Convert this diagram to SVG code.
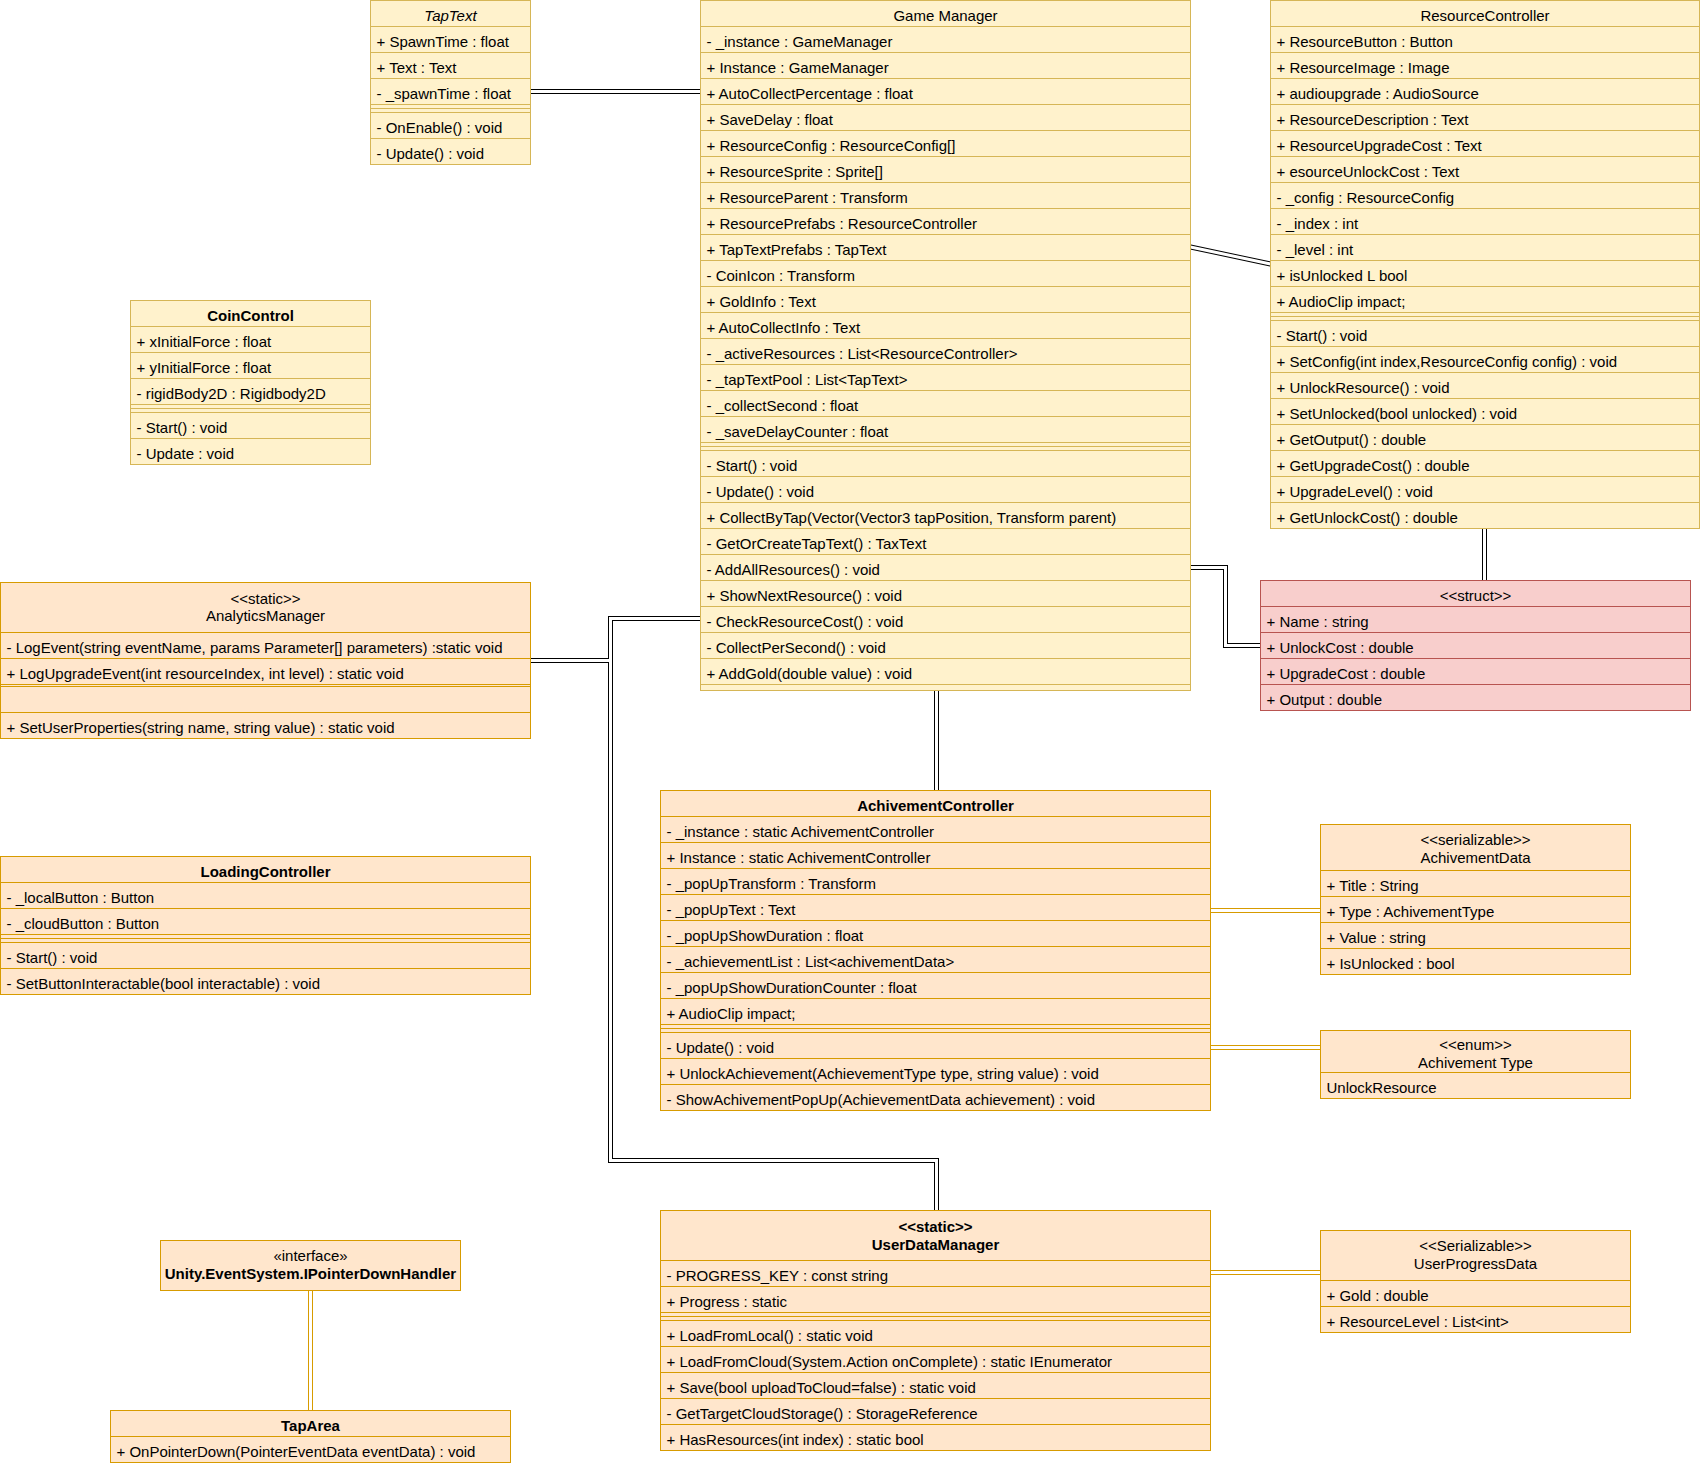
<svg xmlns="http://www.w3.org/2000/svg" width="1701" height="1466" viewBox="0 0 1701 1466">
<style>
  text { font-family: "Liberation Sans", Arial, Helvetica, sans-serif; font-size: 15px; fill: #000; }
  .c { text-anchor: middle; }
  .b { font-weight: bold; }
  .i { font-style: italic; }
  .yl { fill: #fff2cc; stroke: #d6b656; stroke-width: 1; }
  .or { fill: #ffe6cc; stroke: #d79b00; stroke-width: 1; }
  .rd { fill: #f8cecc; stroke: #b85450; stroke-width: 1; }
  .yl-l { fill: none; stroke: #d6b656; stroke-width: 1; }
  .or-l { fill: none; stroke: #d79b00; stroke-width: 1; }
  .rd-l { fill: none; stroke: #b85450; stroke-width: 1; }
  .link-out { fill: none; stroke: #000; stroke-width: 5; stroke-linejoin: miter; }
  .link-out-o { fill: none; stroke: #d79b00; stroke-width: 5; stroke-linejoin: miter; }
  .link-in { fill: none; stroke: #fff; stroke-width: 3; stroke-linejoin: miter; }
</style>
<rect x="0" y="0" width="1701" height="1466" fill="#fff"/>

<!-- associations drawn as double (link) lines -->
<g id="connectors">
  <g id="links-black">
    <path class="link-out" d="M530.5 91.5H700.5"/>
    <path class="link-out" d="M1190.5 247L1270.5 264"/>
    <path class="link-out" d="M1484.5 528.5V580.5"/>
    <path class="link-out" d="M1190.5 567.5H1225.5V645.5H1260.5"/>
    <path class="link-out" d="M936.5 690.5V790.5"/>
    <path class="link-out" d="M700.5 618.5H610.5V660.5H530.5"/>
    <path class="link-out" d="M700.5 618.5H610.5V1160.5H936.5V1210.5"/>
    <path class="link-in" d="M530.5 91.5H700.5"/>
    <path class="link-in" d="M1190.5 247L1270.5 264"/>
    <path class="link-in" d="M1484.5 528.5V580.5"/>
    <path class="link-in" d="M1190.5 567.5H1225.5V645.5H1260.5"/>
    <path class="link-in" d="M936.5 690.5V790.5"/>
    <path class="link-in" d="M700.5 618.5H610.5V660.5H530.5"/>
    <path class="link-in" d="M700.5 618.5H610.5V1160.5H936.5V1210.5"/>
  </g>
  <g id="links-orange">
    <path class="link-out-o" d="M1210.5 910.5H1320.5"/>
    <path class="link-out-o" d="M1210.5 1047.5H1320.5"/>
    <path class="link-out-o" d="M1210.5 1272.5H1320.5"/>
    <path class="link-out-o" d="M310.5 1290.5V1410.5"/>
    <path class="link-in" d="M1210.5 910.5H1320.5"/>
    <path class="link-in" d="M1210.5 1047.5H1320.5"/>
    <path class="link-in" d="M1210.5 1272.5H1320.5"/>
    <path class="link-in" d="M310.5 1290.5V1410.5"/>
  </g>
</g>

<g id="tap-text">
  <rect class="yl" x="370.5" y="0.5" width="160" height="164"/>
  <path class="yl-l" d="M370.5 26.5H530.5M370.5 52.5H530.5M370.5 78.5H530.5M370.5 104.5H530.5M370.5 108.5H530.5M370.5 112.5H530.5M370.5 138.5H530.5"/>
  <text class="c i" x="450.5" y="20.5">TapText</text>
  <text x="376.5" y="46.5">+ SpawnTime : float</text>
  <text x="376.5" y="72.5">+ Text : Text</text>
  <text x="376.5" y="98.5">- _spawnTime : float</text>
  <text x="376.5" y="132.5">- OnEnable() : void</text>
  <text x="376.5" y="158.5">- Update() : void</text>
</g>

<g id="game-manager">
  <rect class="yl" x="700.5" y="0.5" width="490" height="690"/>
  <path class="yl-l" d="M700.5 26.5H1190.5M700.5 52.5H1190.5M700.5 78.5H1190.5M700.5 104.5H1190.5M700.5 130.5H1190.5M700.5 156.5H1190.5M700.5 182.5H1190.5M700.5 208.5H1190.5M700.5 234.5H1190.5M700.5 260.5H1190.5M700.5 286.5H1190.5M700.5 312.5H1190.5M700.5 338.5H1190.5M700.5 364.5H1190.5M700.5 390.5H1190.5M700.5 416.5H1190.5M700.5 442.5H1190.5M700.5 446.5H1190.5M700.5 450.5H1190.5M700.5 476.5H1190.5M700.5 502.5H1190.5M700.5 528.5H1190.5M700.5 554.5H1190.5M700.5 580.5H1190.5M700.5 606.5H1190.5M700.5 632.5H1190.5M700.5 658.5H1190.5M700.5 684.5H1190.5"/>
  <text class="c" x="945.5" y="20.5">Game Manager</text>
  <text x="706.5" y="46.5">- _instance : GameManager</text>
  <text x="706.5" y="72.5">+ Instance : GameManager</text>
  <text x="706.5" y="98.5">+ AutoCollectPercentage : float</text>
  <text x="706.5" y="124.5">+ SaveDelay : float</text>
  <text x="706.5" y="150.5">+ ResourceConfig : ResourceConfig[]</text>
  <text x="706.5" y="176.5">+ ResourceSprite : Sprite[]</text>
  <text x="706.5" y="202.5">+ ResourceParent : Transform</text>
  <text x="706.5" y="228.5">+ ResourcePrefabs : ResourceController</text>
  <text x="706.5" y="254.5">+ TapTextPrefabs : TapText</text>
  <text x="706.5" y="280.5">- CoinIcon : Transform</text>
  <text x="706.5" y="306.5">+ GoldInfo : Text</text>
  <text x="706.5" y="332.5">+ AutoCollectInfo : Text</text>
  <text x="706.5" y="358.5">- _activeResources : List&lt;ResourceController&gt;</text>
  <text x="706.5" y="384.5">- _tapTextPool : List&lt;TapText&gt;</text>
  <text x="706.5" y="410.5">- _collectSecond : float</text>
  <text x="706.5" y="436.5">- _saveDelayCounter : float</text>
  <text x="706.5" y="470.5">- Start() : void</text>
  <text x="706.5" y="496.5">- Update() : void</text>
  <text x="706.5" y="522.5">+ CollectByTap(Vector(Vector3 tapPosition, Transform parent)</text>
  <text x="706.5" y="548.5">- GetOrCreateTapText() : TaxText</text>
  <text x="706.5" y="574.5">- AddAllResources() : void</text>
  <text x="706.5" y="600.5">+ ShowNextResource() : void</text>
  <text x="706.5" y="626.5">- CheckResourceCost() : void</text>
  <text x="706.5" y="652.5">- CollectPerSecond() : void</text>
  <text x="706.5" y="678.5">+ AddGold(double value) : void</text>
</g>

<g id="resource-controller">
  <rect class="yl" x="1270.5" y="0.5" width="429" height="528"/>
  <path class="yl-l" d="M1270.5 26.5H1699.5M1270.5 52.5H1699.5M1270.5 78.5H1699.5M1270.5 104.5H1699.5M1270.5 130.5H1699.5M1270.5 156.5H1699.5M1270.5 182.5H1699.5M1270.5 208.5H1699.5M1270.5 234.5H1699.5M1270.5 260.5H1699.5M1270.5 286.5H1699.5M1270.5 312.5H1699.5M1270.5 316.5H1699.5M1270.5 320.5H1699.5M1270.5 346.5H1699.5M1270.5 372.5H1699.5M1270.5 398.5H1699.5M1270.5 424.5H1699.5M1270.5 450.5H1699.5M1270.5 476.5H1699.5M1270.5 502.5H1699.5"/>
  <text class="c" x="1485" y="20.5">ResourceController</text>
  <text x="1276.5" y="46.5">+ ResourceButton : Button</text>
  <text x="1276.5" y="72.5">+ ResourceImage : Image</text>
  <text x="1276.5" y="98.5">+ audioupgrade : AudioSource</text>
  <text x="1276.5" y="124.5">+ ResourceDescription : Text</text>
  <text x="1276.5" y="150.5">+ ResourceUpgradeCost : Text</text>
  <text x="1276.5" y="176.5">+ esourceUnlockCost : Text</text>
  <text x="1276.5" y="202.5">- _config : ResourceConfig</text>
  <text x="1276.5" y="228.5">- _index : int</text>
  <text x="1276.5" y="254.5">- _level : int</text>
  <text x="1276.5" y="280.5">+ isUnlocked L bool</text>
  <text x="1276.5" y="306.5">+ AudioClip impact;</text>
  <text x="1276.5" y="340.5">- Start() : void</text>
  <text x="1276.5" y="366.5">+ SetConfig(int index,ResourceConfig config) : void</text>
  <text x="1276.5" y="392.5">+ UnlockResource() : void</text>
  <text x="1276.5" y="418.5">+ SetUnlocked(bool unlocked) : void</text>
  <text x="1276.5" y="444.5">+ GetOutput() : double</text>
  <text x="1276.5" y="470.5">+ GetUpgradeCost() : double</text>
  <text x="1276.5" y="496.5">+ UpgradeLevel() : void</text>
  <text x="1276.5" y="522.5">+ GetUnlockCost() : double</text>
</g>

<g id="resource-config-struct">
  <rect class="rd" x="1260.5" y="580.5" width="430" height="130"/>
  <path class="rd-l" d="M1260.5 606.5H1690.5M1260.5 632.5H1690.5M1260.5 658.5H1690.5M1260.5 684.5H1690.5"/>
  <text class="c" x="1475.5" y="600.5">&lt;&lt;struct&gt;&gt;</text>
  <text x="1266.5" y="626.5">+ Name : string</text>
  <text x="1266.5" y="652.5">+ UnlockCost : double</text>
  <text x="1266.5" y="678.5">+ UpgradeCost : double</text>
  <text x="1266.5" y="704.5">+ Output : double</text>
</g>

<g id="coin-control">
  <rect class="yl" x="130.5" y="300.5" width="240" height="164"/>
  <path class="yl-l" d="M130.5 326.5H370.5M130.5 352.5H370.5M130.5 378.5H370.5M130.5 404.5H370.5M130.5 408.5H370.5M130.5 412.5H370.5M130.5 438.5H370.5"/>
  <text class="c b" x="250.5" y="320.5">CoinControl</text>
  <text x="136.5" y="346.5">+ xInitialForce : float</text>
  <text x="136.5" y="372.5">+ yInitialForce : float</text>
  <text x="136.5" y="398.5">- rigidBody2D : Rigidbody2D</text>
  <text x="136.5" y="432.5">- Start() : void</text>
  <text x="136.5" y="458.5">- Update : void</text>
</g>

<g id="analytics-manager">
  <rect class="or" x="0.5" y="582.5" width="530" height="156"/>
  <path class="or-l" d="M0.5 632.5H530.5M0.5 658.5H530.5M0.5 684.5H530.5M0.5 686.5H530.5M0.5 712.5H530.5"/>
  <text class="c" x="265.5" y="603.5">&lt;&lt;static&gt;&gt;</text>
  <text class="c" x="265.5" y="621">AnalyticsManager</text>
  <text x="6.5" y="652.5">- LogEvent(string eventName, params Parameter[] parameters) :static void</text>
  <text x="6.5" y="678.5">+ LogUpgradeEvent(int resourceIndex, int level) : static void</text>
  <text x="6.5" y="732.5">+ SetUserProperties(string name, string value) : static void</text>
</g>

<g id="loading-controller">
  <rect class="or" x="0.5" y="856.5" width="530" height="138"/>
  <path class="or-l" d="M0.5 882.5H530.5M0.5 908.5H530.5M0.5 934.5H530.5M0.5 938.5H530.5M0.5 942.5H530.5M0.5 968.5H530.5"/>
  <text class="c b" x="265.5" y="876.5">LoadingController</text>
  <text x="6.5" y="902.5">- _localButton : Button</text>
  <text x="6.5" y="928.5">- _cloudButton : Button</text>
  <text x="6.5" y="962.5">- Start() : void</text>
  <text x="6.5" y="988.5">- SetButtonInteractable(bool interactable) : void</text>
</g>

<g id="achivement-controller">
  <rect class="or" x="660.5" y="790.5" width="550" height="320"/>
  <path class="or-l" d="M660.5 816.5H1210.5M660.5 842.5H1210.5M660.5 868.5H1210.5M660.5 894.5H1210.5M660.5 920.5H1210.5M660.5 946.5H1210.5M660.5 972.5H1210.5M660.5 998.5H1210.5M660.5 1024.5H1210.5M660.5 1028.5H1210.5M660.5 1032.5H1210.5M660.5 1058.5H1210.5M660.5 1084.5H1210.5"/>
  <text class="c b" x="935.5" y="810.5">AchivementController</text>
  <text x="666.5" y="836.5">- _instance : static AchivementController</text>
  <text x="666.5" y="862.5">+ Instance : static AchivementController</text>
  <text x="666.5" y="888.5">- _popUpTransform : Transform</text>
  <text x="666.5" y="914.5">- _popUpText : Text</text>
  <text x="666.5" y="940.5">- _popUpShowDuration : float</text>
  <text x="666.5" y="966.5">- _achievementList : List&lt;achivementData&gt;</text>
  <text x="666.5" y="992.5">- _popUpShowDurationCounter : float</text>
  <text x="666.5" y="1018.5">+ AudioClip impact;</text>
  <text x="666.5" y="1052.5">- Update() : void</text>
  <text x="666.5" y="1078.5">+ UnlockAchievement(AchievementType type, string value) : void</text>
  <text x="666.5" y="1104.5">- ShowAchivementPopUp(AchievementData achievement) : void</text>
</g>

<g id="achivement-data">
  <rect class="or" x="1320.5" y="824.5" width="310" height="150"/>
  <path class="or-l" d="M1320.5 870.5H1630.5M1320.5 896.5H1630.5M1320.5 922.5H1630.5M1320.5 948.5H1630.5"/>
  <text class="c" x="1475.5" y="844.5">&lt;&lt;serializable&gt;&gt;</text>
  <text class="c" x="1475.5" y="862.5">AchivementData</text>
  <text x="1326.5" y="890.5">+ Title : String</text>
  <text x="1326.5" y="916.5">+ Type : AchivementType</text>
  <text x="1326.5" y="942.5">+ Value : string</text>
  <text x="1326.5" y="968.5">+ IsUnlocked : bool</text>
</g>

<g id="achivement-type">
  <rect class="or" x="1320.5" y="1030.5" width="310" height="68"/>
  <path class="or-l" d="M1320.5 1072.5H1630.5"/>
  <text class="c" x="1475.5" y="1049.5">&lt;&lt;enum&gt;&gt;</text>
  <text class="c" x="1475.5" y="1067.5">Achivement Type</text>
  <text x="1326.5" y="1092.5">UnlockResource</text>
</g>

<g id="user-data-manager">
  <rect class="or" x="660.5" y="1210.5" width="550" height="240"/>
  <path class="or-l" d="M660.5 1260.5H1210.5M660.5 1286.5H1210.5M660.5 1312.5H1210.5M660.5 1316.5H1210.5M660.5 1320.5H1210.5M660.5 1346.5H1210.5M660.5 1372.5H1210.5M660.5 1398.5H1210.5M660.5 1424.5H1210.5"/>
  <text class="c b" x="935.5" y="1231.5">&lt;&lt;static&gt;&gt;</text>
  <text class="c b" x="935.5" y="1249.5">UserDataManager</text>
  <text x="666.5" y="1280.5">- PROGRESS_KEY : const string</text>
  <text x="666.5" y="1306.5">+ Progress : static</text>
  <text x="666.5" y="1340.5">+ LoadFromLocal() : static void</text>
  <text x="666.5" y="1366.5">+ LoadFromCloud(System.Action onComplete) : static IEnumerator</text>
  <text x="666.5" y="1392.5">+ Save(bool uploadToCloud=false) : static void</text>
  <text x="666.5" y="1418.5">- GetTargetCloudStorage() : StorageReference</text>
  <text x="666.5" y="1444.5">+ HasResources(int index) : static bool</text>
</g>

<g id="user-progress-data">
  <rect class="or" x="1320.5" y="1230.5" width="310" height="102"/>
  <path class="or-l" d="M1320.5 1280.5H1630.5M1320.5 1306.5H1630.5"/>
  <text class="c" x="1475.5" y="1251">&lt;&lt;Serializable&gt;&gt;</text>
  <text class="c" x="1475.5" y="1269">UserProgressData</text>
  <text x="1326.5" y="1300.5">+ Gold : double</text>
  <text x="1326.5" y="1326.5">+ ResourceLevel : List&lt;int&gt;</text>
</g>

<g id="pointer-down-handler">
  <rect class="or" x="160.5" y="1240.5" width="300" height="50"/>
  <text class="c" x="310.5" y="1260.5">«interface»</text>
  <text class="c b" x="310.5" y="1279">Unity.EventSystem.IPointerDownHandler</text>
</g>

<g id="tap-area">
  <rect class="or" x="110.5" y="1410.5" width="400" height="52"/>
  <path class="or-l" d="M110.5 1436.5H510.5"/>
  <text class="c b" x="310.5" y="1430.5">TapArea</text>
  <text x="116.5" y="1456.5">+ OnPointerDown(PointerEventData eventData) : void</text>
</g>
</svg>
